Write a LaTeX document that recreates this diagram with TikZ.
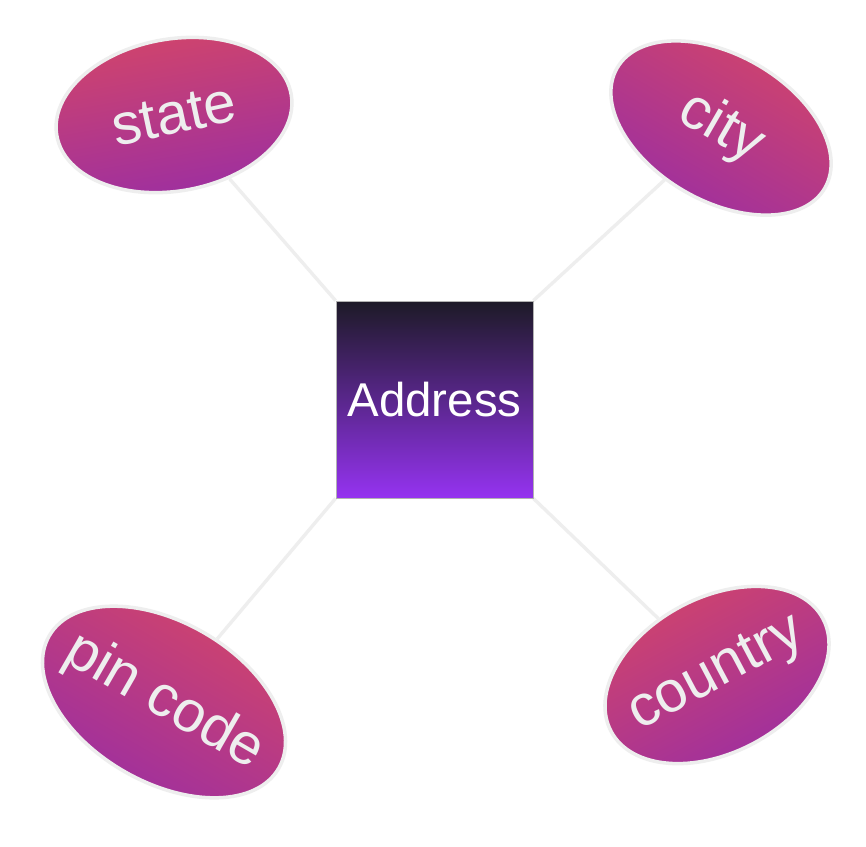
\documentclass[tikz,border=0pt]{standalone}
\usepackage{fontspec}
\setmainfont{Liberation Sans}
\usetikzlibrary{shapes.geometric,backgrounds}

\definecolor{attrtop}{HTML}{D2456A}
\definecolor{attrbot}{HTML}{9B2EA2}
\definecolor{enttop}{HTML}{1D1A27}
\definecolor{entbot}{HTML}{9533F0}
\definecolor{edgegray}{HTML}{EEEEEE}

\pgfdeclarelayer{edges}
\pgfsetlayers{background,edges,main}

\begin{document}
\begin{tikzpicture}[x=0.02cm,y=-0.02cm,
        attr/.style={ellipse, draw=edgegray, line width=2pt, inner sep=0pt,
            top color=attrtop, bottom color=attrbot,
            rotate=#1, shading angle=#1},
        attrlabel/.style={text=edgegray, inner sep=0pt, rotate=#1,
            font=\fontsize{33}{33}\selectfont},
        entity/.style={rectangle, draw=gray!60, line width=0.5pt,
            minimum size=3.94cm, inner sep=0pt,
            top color=enttop, bottom color=entbot, text=white,
            font=\fontsize{27}{27}\selectfont},
        link/.style={draw=edgegray, line width=1.9pt}]
            \begin{pgfonlayer}{background}
                \fill[white] (0,0) rectangle (866,846);
            \end{pgfonlayer}
            \useasboundingbox (0,0) rectangle (866,846);

            \node[entity] (address) at(434.5,399.5) {Address};

            % attribute ellipses
            \node[attr=10, minimum width=4.76cm, minimum height=3.04cm] (state) at(174,115) {};
            \node[attr=-30, minimum width=4.8cm, minimum height=2.92cm] (city) at(721,128) {};
            \node[attr=-30, minimum width=5.3cm, minimum height=3.2cm] (pincode) at(164,702) {};
            \node[attr=28, minimum width=4.8cm, minimum height=3.1cm] (country) at(717,675) {};

            \node[attrlabel=12] at(state) {state};
            \node[attrlabel=-30] at(city) {city};
            \node[attrlabel=-30] at(pincode) {pin code};
            \node[attrlabel=28] at(country) {country};

            \begin{pgfonlayer}{edges}
                \draw[link] (state) -- (address.north west);
                \draw[link] (city) -- (address.north east);
                \draw[link] (pincode) -- (address.south west);
                \draw[link] (country) -- (address.south east);
            \end{pgfonlayer}

        \end{tikzpicture}
\end{document}
